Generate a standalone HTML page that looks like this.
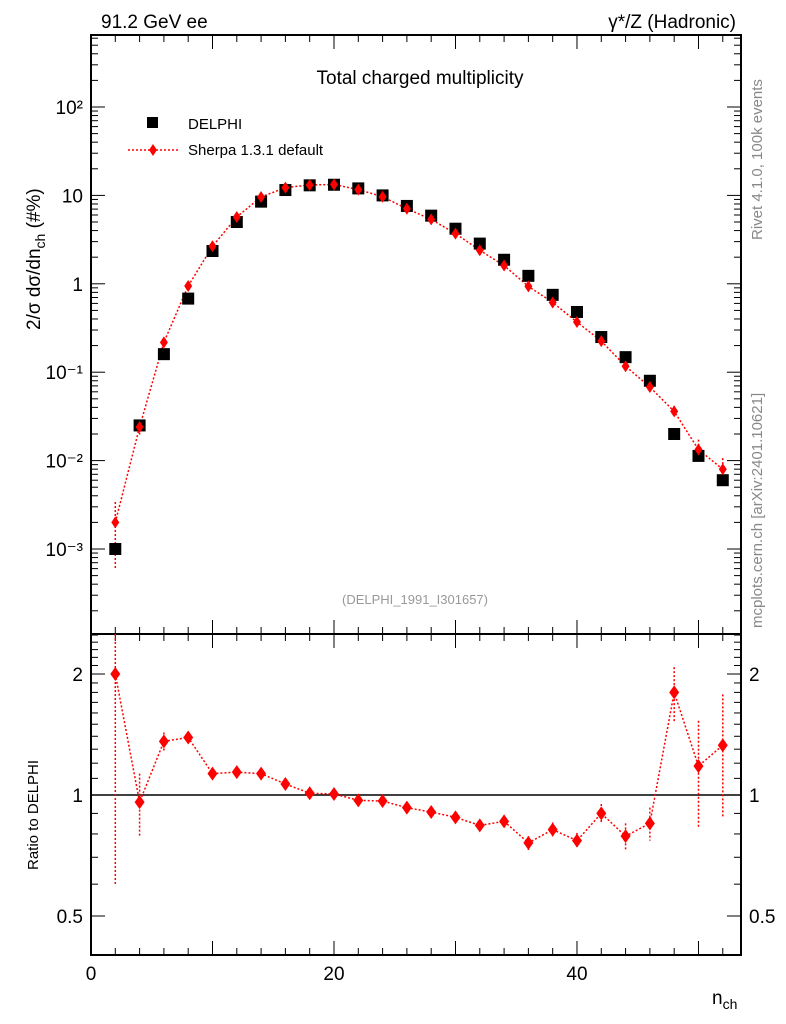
<!DOCTYPE html>
<html><head><meta charset="utf-8"><style>
body{margin:0;background:#fff}
svg{display:block;font-family:"Liberation Sans",sans-serif}
</style></head><body>
<svg id="chart" width="786" height="1024" viewBox="0 0 786 1024">
<text x="101" y="28" font-size="19">91.2 GeV ee</text>
<text x="736" y="28" font-size="19" text-anchor="end">γ*/Z (Hadronic)</text>
<text x="420" y="84" font-size="19" text-anchor="middle">Total charged multiplicity</text>
<text x="415" y="604" font-size="13" fill="#999" text-anchor="middle">(DELPHI_1991_I301657)</text>
<text transform="translate(762,240) rotate(-90)" font-size="15" fill="#888">Rivet 4.1.0,  100k events</text>
<text transform="translate(762,628) rotate(-90)" font-size="15" fill="#888">mcplots.cern.ch [arXiv:2401.10621]</text>
<text transform="translate(40,330) rotate(-90)" font-size="19">2/σ  dσ/dn<tspan font-size="14" dy="5">ch</tspan><tspan dy="-5"> (#%)</tspan></text>
<text transform="translate(38,870) rotate(-90)" font-size="15">Ratio to DELPHI</text>
<text x="712" y="1004" font-size="19">n<tspan font-size="14" dy="5">ch</tspan></text>
<g>
<rect x="147" y="117" width="11" height="11" fill="#000"/>
<text x="188" y="129" font-size="15">DELPHI</text>
<line x1="128" y1="150" x2="178" y2="150" stroke="red" stroke-dasharray="2,2" stroke-width="1.5"/>
<path d="M153 144 L157 150 L153 156 L149 150Z" fill="red"/>
<text x="188" y="155" font-size="15">Sherpa 1.3.1 default</text>
</g>
<g id="axes"></g>
<g id="marks"></g>
</svg>
<script>
const nch=[2,4,6,8,10,12,14,16,18,20,22,24,26,28,30,32,34,36,38,40,42,44,46,48,50,52];
const delphi=[0.001,0.025,0.16,0.68,2.35,5,8.5,11.5,13,13.2,12,10,7.6,5.9,4.2,2.85,1.87,1.23,0.75,0.48,0.25,0.148,0.08,0.02,0.0113,0.006];
const ratio=[2.0,0.96,1.36,1.39,1.13,1.14,1.13,1.065,1.01,1.006,0.97,0.966,0.93,0.907,0.88,0.84,0.86,0.76,0.82,0.77,0.90,0.79,0.85,1.8,1.18,1.33];
const ratioErr=[1.4,0.17,0.07,0.04,0.025,0.02,0.02,0.02,0.015,0.015,0.015,0.015,0.015,0.015,0.02,0.02,0.02,0.03,0.035,0.035,0.05,0.06,0.08,0.28,0.35,0.45];
const xTicks=[0,20,40];
const yTickLabels=["10\u207b\u00b3","10\u207b\u00b2","10\u207b\u00b9","1","10","10\u00b2"];
const ratioTicks=[0.5,1,2];
const NS="http://www.w3.org/2000/svg";
const L=91,R=741,T=35,M=634,B=955;
const X=v=>L+v*(R-L)/53.5;
const Y=v=>549-(Math.log10(v)+3)*88.4;
const YR=v=>795-Math.log2(v)*121;
const ax=document.getElementById('axes'),mk=document.getElementById('marks');
function el(p,tag,a){const e=document.createElementNS(NS,tag);for(const k in a)e.setAttribute(k,a[k]);p.appendChild(e);return e;}
let e;
e=el(ax,'rect',{x:L,y:T,width:R-L,height:B-T,fill:'none',stroke:'#000','stroke-width':2});


e=el(ax,'line',{x1:L,x2:R,y1:M,y2:M,stroke:'#000','stroke-width':2});


e=el(ax,'line',{x1:L,x2:R,y1:YR(1),y2:YR(1),stroke:'#000','stroke-width':1.5});


for(let v=0;v<=53;v++){
 const len=v%10==0?14:(v%2==0?7:0); if(!len)continue;
 for(const[y0,d] of [[B,-1],[M,-1],[M,1],[T,1]]){
  el(ax,'line',{x1:X(v),x2:X(v),y1:y0,y2:y0+d*len,stroke:'#000'});
 }
}
xTicks.forEach(v=>{e=el(ax,'text',{x:X(v),y:B+25,'font-size':19,'text-anchor':'middle'});e.textContent=v;

});
for(let p=-4;p<=2;p++){for(let m=1;m<10;m++){const v=m*Math.pow(10,p);const y=Y(v);if(y<T||y>M)continue;const len=m==1?14:7;
 el(ax,'line',{x1:L,x2:L+len,y1:y,y2:y,stroke:'#000'});el(ax,'line',{x1:R,x2:R-len,y1:y,y2:y,stroke:'#000'});}}
yTickLabels.forEach((t,i)=>{const v=Math.pow(10,i-3);e=el(ax,'text',{x:L-8,y:Y(v)+7,'font-size':19,'text-anchor':'end'});e.textContent=t;

});
for(let v=0.4;v<=2.55;v+=0.1){const y=YR(v);if(y<M||y>B)continue;const major=[0.5,1,2].some(t=>Math.abs(t-v)<1e-6);const len=major?14:7;
 el(ax,'line',{x1:L,x2:L+len,y1:y,y2:y,stroke:'#000'});el(ax,'line',{x1:R,x2:R-len,y1:y,y2:y,stroke:'#000'});}
ratioTicks.forEach(v=>{for(const [x,a] of [[L-8,'end'],[R+8,'start']]){e=el(ax,'text',{x:x,y:YR(v)+7,'font-size':19,'text-anchor':a});e.textContent=v;

}});
const sherpa=nch.map((n,i)=>delphi[i]*ratio[i]);
const clampT=y=>Math.max(T,Math.min(M,y)),clampR=y=>Math.max(M,Math.min(B,y));
e=el(mk,'polyline',{points:nch.map((n,i)=>X(n)+','+Y(sherpa[i])).join(' '),fill:'none',stroke:'red','stroke-width':1.5,'stroke-dasharray':'2,2'});


e=el(mk,'polyline',{points:nch.map((n,i)=>X(n)+','+YR(ratio[i])).join(' '),fill:'none',stroke:'red','stroke-width':1.5,'stroke-dasharray':'2,2'});


nch.forEach((n,i)=>{
 const x=X(n),s=sherpa[i],er=ratioErr[i]*delphi[i];
 e=el(mk,'line',{x1:x,x2:x,y1:clampT(Y(s+er)),y2:clampT(Y(Math.max(s-er,1e-5))),stroke:'red','stroke-width':1.5,'stroke-dasharray':'2,2'});
 
 
 e=el(mk,'rect',{x:x-6,y:Y(delphi[i])-6,width:12,height:12,fill:'#000'});
 
 
 const y=Y(s);
 e=el(mk,'path',{d:`M${x} ${y-6}L${x+4} ${y}L${x} ${y+6}L${x-4} ${y}Z`,fill:'red'});
 
 
 const r=ratio[i],re=ratioErr[i];
 e=el(mk,'line',{x1:x,x2:x,y1:clampR(YR(r+re)),y2:clampR(YR(Math.max(r-re,0.3))),stroke:'red','stroke-width':1.5,'stroke-dasharray':'2,2'});
 
 
 const yr=YR(r);
 e=el(mk,'path',{d:`M${x} ${yr-7}L${x+5} ${yr}L${x} ${yr+7}L${x-5} ${yr}Z`,fill:'red'});
 
 
});
</script>
</body></html>
